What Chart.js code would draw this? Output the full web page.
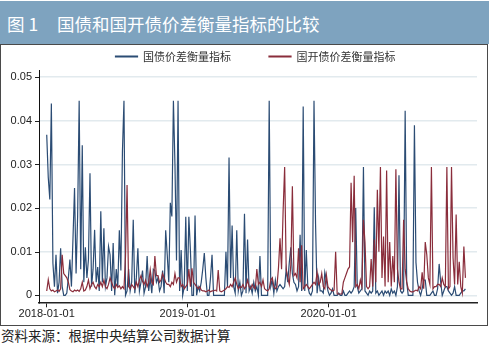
<!DOCTYPE html>
<html>
<head>
<meta charset="utf-8">
<script src="https://cdn.jsdelivr.net/npm/chart.js@4.4.0/dist/chart.umd.min.js"></script>
<style>
  html, body { margin: 0; padding: 0; background: #fff; }
  body { width: 489px; height: 344px; position: relative; overflow: hidden; font-family: "Noto Sans CJK SC", sans-serif; }
  #titleBar { position: absolute; left: 0; top: 1px; width: 489px; height: 43px; background: #7ea3bf; color: #fff; z-index: 2; }
  #titleBar span { position: absolute; top: 10px; font-size: 17.5px; line-height: 26px; white-space: nowrap; }
  #frame { position: absolute; left: 0; top: 44px; width: 488px; height: 282px; box-sizing: border-box; border: 1.5px solid #4a4a4a; border-top-width: 1px; }
  #wrap { position: absolute; left: 0; top: 13px; width: 489px; height: 312px; z-index: 1; }
  #source { position: absolute; left: 1px; top: 327px; font-size: 13.5px; line-height: 17px; color: #222; white-space: nowrap; }
</style>
</head>
<body>
<div id="titleBar"><span style="left:7px">图 1</span><span style="left:57px">国债和国开债价差衡量指标的比较</span></div>
<div id="frame"></div>
<div id="wrap"><canvas id="chart" width="489" height="312"></canvas></div>
<div id="source">资料来源：根据中央结算公司数据计算</div>
<script>
// 数值单位：0.001（坐标轴标签换算回原值）
// 约每 4 天一个观测，自 2018-01-01 起
var sampleStep = 4;

var govSpread = [
    36.8, 27, 22, 44, 7.4, 2, 9.3, 0.5, 3, 10.8,
    2, 0, 0, 0.5, 4, 8.2, 2, 13.1, 24.6, 5,
    18.1, 44.6, 6, 34.4, 3, 11, 4, 8.2, 28, 2,
    6, 15, 3, 6.5, 1, 19.3, 3, 15.4, 2, 4,
    11.2, 9.3, 1, 12, 0, 6, 2, 14.9, 5.7, 33,
    44.6, 0, 1, 6, 1, 3, 17.3, 0.5, 4, 10.8,
    1, 3, 5.7, 0.5, 2, 9, 1, 4, 0.5, 6,
    5.7, 3, 4, 1, 2, 5.7, 0.5, 14.9, 9.3, 3,
    21.2, 18.1, 44.6, 30, 8, 44.6, 1, 10.4, 0, 2,
    18, 1, 18, 10.4, 0, 0, 18.3, 0, 2, 1,
    3, 6, 9.7, 4, 0, 0, 4, 9.3, 0, 0,
    0, 0, 0, 0, 0, 0, 10, 2, 31.6, 4,
    16, 2, 0.5, 14.9, 1, 3, 0, 1, 18.7, 0.5,
    12.8, 1, 2, 0.5, 3, 1, 2, 0, 9, 0,
    0, 0, 0, 0, 44.6, 2, 3.5, 0.5, 3.5, 1,
    2, 2.5, 2, 1.5, 2, 6, 3, 7.5, 11, 5,
    3, 2.5, 1, 2, 13.9, 1, 43.3, 1, 10.4, 2,
    0.5, 0, 1, 44.6, 16.4, 0.5, 4, 1, 1, 0.5,
    5.3, 3.5, 1, 0, 0.5, 1.5, 0, 0, 0, 0.5,
    0, 0, 1, 0, 0, 0.5, 1, 0.5, 1, 2,
    20, 2, 0.5, 1, 1.5, 29.4, 1, 0.5, 0, 1,
    0.5, 1, 20.2, 0.5, 1, 0, 0.5, 1, 0, 1,
    0.5, 1, 0, 1.5, 0.5, 1, 0, 2, 27.5, 1,
    0.5, 1, 42.3, 3, 0, 0, 0, 0, 39, 7.5,
    3, 1, 0, 1.5, 3.5, 3.5, 0, 0, 0, 0.5,
    1, 0, 0, 1.5, 7.2, 3, 0, 1, 2, 2,
    1, 0.5, 0, 0.5, 2, 0, 0, 0, 0.5, 1, 1, 1.5
];

var cdbSpread = [
    1, 3.6, 1.5, 1, 1.2, 0.8, 1, 1.2, 0.9, 1.5,
    9.3, 5, 4.5, 4, 3, 1.3, 1, 0.8, 1.2, 1,
    1.2, 0.9, 1.5, 3, 1, 1.2, 2, 3.5, 1.5, 2.5,
    3, 2, 1.5, 2.5, 2, 3, 2, 3.5, 2, 1.5,
    2.5, 4, 3, 2, 1.5, 2.5, 1.8, 2.2, 1.5, 2,
    1.5, 9, 25.3, 2, 1.5, 2.5, 2, 1.5, 3, 2,
    3.5, 4.5, 3.2, 2.5, 3.5, 2, 3, 5.9, 3, 2.5,
    9, 4.5, 4.5, 3, 3.5, 5, 4, 3, 2.5, 2.5,
    2, 3, 2.5, 5, 3, 4, 4, 2, 2.5, 1.5,
    2, 2.5, 6, 2, 6.2, 3, 2.5, 2, 1.5, 2,
    1.2, 1, 1, 0.8, 1, 1.2, 0.8, 1, 1, 1.2,
    1, 5.8, 1, 0.8, 1, 1.2, 1.5, 2, 1.8, 2.5,
    2, 3, 4, 2.5, 1.5, 2, 1.8, 2.5, 1.5, 2,
    3.5, 2, 1.5, 2.5, 1.8, 1.5, 6, 2.5, 3, 2,
    3.5, 1.5, 1.2, 1, 1.5, 3.5, 4, 2, 1.5, 2,
    6.3, 13.1, 6, 19.3, 29.4, 6, 4, 2.5, 7, 25,
    4.5, 5, 4, 10.8, 3, 11.5, 1.5, 2, 2.5, 2,
    1.5, 2, 2.5, 3, 2.5, 5.3, 2.5, 3, 5, 2,
    1.5, 4.7, 2, 1.5, 1.2, 1, 1.2, 10, 0.3, 0.3,
    0.3, 0.3, 3, 4, 5, 6, 6.5, 25.8, 12.2, 27.4,
    2, 2.5, 1.5, 3.5, 2, 17.3, 12.2, 2, 1.5, 2,
    8.3, 2, 12.8, 3, 24.2, 10, 29.4, 4, 13.5, 2,
    28.6, 3, 12.2, 2, 9, 3, 28.9, 6, 3, 1.5,
    1.5, 17.3, 6, 3, 1.5, 1, 0.8, 0.8, 1, 1.2,
    1, 2, 1.5, 5.3, 1.5, 12.2, 9.3, 4, 2.5, 29.4,
    1.5, 2, 2, 2.5, 2.5, 2, 4, 2.5, 2, 29.4,
    1.5, 2, 29.4, 8.6, 2.5, 18.5, 2.5, 7.7, 2, 0.5, 11.2, 4
];

var tickDays = [0, 365, 730];
var tickLabels = ['2018-01-01', '2019-01-01', '2020-01-01'];
var yTickValues = [0, 10, 20, 30, 40, 50];
var yTickLabels = ['0', '0.01', '0.02', '0.03', '0.04', '0.05'];

var days = govSpread.map(function (v, i) {
    return i * sampleStep;
});

// 左侧 y 轴的小刻度线（网格线是浅色的，刻度是深色的）
var yTickMarks = {
    id: 'yTickMarks',
    afterDraw: function (chart) {
        var y = chart.scales.y, ctx = chart.ctx, left = chart.chartArea.left;
        ctx.save();
        ctx.strokeStyle = '#222';
        ctx.lineWidth = 1;
        y.ticks.forEach(function (t) {
            var py = Math.round(y.getPixelForValue(t.value)) + 0.5;
            ctx.beginPath();
            ctx.moveTo(left - 4, py);
            ctx.lineTo(left, py);
            ctx.stroke();
        });
        ctx.restore();
    }
};

// 图例整体略向右
var legendShift = {
    id: 'legendShift',
    afterLayout: function (chart) {
        chart.legend.left += 13;
        chart.legend.right += 13;
    }
};

Chart.defaults.font.family = '"Liberation Sans", Arial, sans-serif';

new Chart(document.getElementById('chart'), {
    type: 'line',
    data: {
        labels: days,
        datasets: [
            {
                label: '国债价差衡量指标',
                data: govSpread,
                borderColor: '#2b4c74',
                backgroundColor: '#2b4c74',
                borderWidth: 1.2,
                pointRadius: 0,
                tension: 0,
                order: 2
            },
            {
                label: '国开债价差衡量指标',
                data: cdbSpread,
                borderColor: '#8a2d3b',
                backgroundColor: '#8a2d3b',
                borderWidth: 1.2,
                pointRadius: 0,
                tension: 0,
                order: 1
            }
        ]
    },
    options: {
        responsive: false,
        animation: false,
        layout: {padding: {left: 8, right: 12, top: 0, bottom: 4.5}},
        plugins: {
            legend: {
                position: 'top',
                maxHeight: 57.7,
                labels: {
                    boxWidth: 22,
                    boxHeight: 1,
                    padding: 38,
                    color: '#333',
                    font: {family: '"Noto Sans CJK SC"', size: 11},
                    sort: function (a, b) {
                        return a.datasetIndex - b.datasetIndex;
                    }
                }
            },
            tooltip: {enabled: false}
        },
        scales: {
            x: {
                type: 'linear',
                min: -20,
                max: 1114,
                afterBuildTicks: function (scale) {
                    scale.ticks = tickDays.map(function (v) { return {value: v}; });
                },
                ticks: {
                    callback: function (value, index) { return tickLabels[index]; },
                    padding: 0,
                    maxRotation: 0,
                    color: '#222',
                    font: {size: 11}
                },
                grid: {drawOnChartArea: false, drawTicks: true, tickLength: 5, color: '#222', lineWidth: 1},
                border: {color: '#222', width: 1.5}
            },
            y: {
                min: -1.6,
                max: 51.5,
                afterBuildTicks: function (scale) {
                    scale.ticks = yTickValues.map(function (v) { return {value: v}; });
                },
                afterFit: function (scale) {
                    scale.width = 31;
                },
                ticks: {
                    callback: function (value, index) { return yTickLabels[index]; },
                    padding: 7,
                    color: '#222',
                    font: {size: 11}
                },
                grid: {color: '#e2eaee', lineWidth: 1.5, drawTicks: false},
                border: {color: '#111', width: 1}
            }
        }
    },
    plugins: [yTickMarks, legendShift]
});
</script>
</body>
</html>
